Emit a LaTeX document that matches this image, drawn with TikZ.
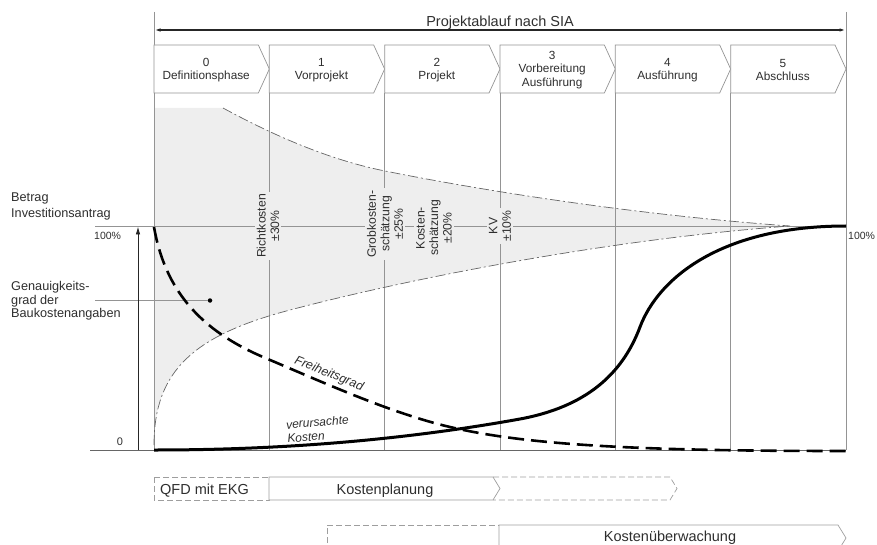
\documentclass[tikz,border=0pt]{standalone}
\usepackage{fontspec}
\setmainfont{Liberation Sans}
\usetikzlibrary{arrows.meta}
\definecolor{funnelgray}{gray}{0.935}
\definecolor{lineg}{gray}{0.58}
\definecolor{boxg}{gray}{0.62}
\definecolor{txt}{gray}{0.18}
\definecolor{funline}{gray}{0.4}
\begin{document}
\begin{tikzpicture}[x=1pt,y=-1pt,
  phaseline/.style={draw=lineg,line width=0.7pt},
  chev/.style={draw=lineg,line width=0.7pt,fill=white},
  chevtext/.style={font=\fontsize{11.8}{13.5}\selectfont,text=txt,align=center,inner sep=0pt},
  rotlab/.style={font=\fontsize{12.2}{13.5}\selectfont,text=txt,align=center,rotate=90,fill=funnelgray,inner sep=2pt},
  sidelab/.style={font=\fontsize{12.7}{15.5}\selectfont,text=txt,align=left,anchor=west,inner sep=0pt},
  axislab/.style={font=\fontsize{10.5}{12}\selectfont,text=txt,inner sep=0pt},
  barlab/.style={font=\fontsize{14.5}{16}\selectfont,text=txt,inner sep=0pt},
  curvelab/.style={font=\itshape\fontsize{12.5}{14}\selectfont,text=txt,inner sep=0pt},
  funnelline/.style={draw=funline,line width=0.7pt,dash pattern=on 10pt off 3pt on 2pt off 3pt},
  freiheit/.style={draw=black,line width=2.6pt,dash pattern=on 16pt off 7pt},
  kosten/.style={draw=black,line width=3pt},
  solidbar/.style={draw=boxg,line width=0.7pt},
  dashbar/.style={draw=boxg,line width=0.7pt,dash pattern=on 6pt off 3pt},
]
\useasboundingbox (0,0) rectangle (877,545);

% funnel fill
\fill[funnelgray] (154,108) -- (223,108)
  .. controls (260,128) and (320,158) .. (385,171)
  .. controls (500,194) and (650,216) .. (790,226)
  .. controls (600,240) and (400,281) .. (290,310)
  .. controls (195,335) and (154,370) .. (154,445)
  -- cycle;

% axes and reference lines
\coordinate (hl) at (95,226);
\coordinate (hr) at (846,226);
\draw[draw=lineg,line width=0.8pt] (hl) -- (hr);
\coordinate (bl) at (90,450);
\coordinate (br) at (846,450);
\draw[draw=gray!80!black,line width=0.9pt] (bl) -- (br);

% phase lines
\coordinate (vl0) at (154,12);
\coordinate (vl1) at (154,450);
\coordinate (vr0) at (846,12);
\coordinate (vr1) at (846,450);
\draw[phaseline] (vl0) -- (vl1);
\draw[phaseline] (vr0) -- (vr1);
\foreach \i in {1,...,5} {
  \coordinate (pt\i) at (154+115.333*\i,93);
  \coordinate (pb\i) at (154+115.333*\i,450);
  \draw[phaseline] (pt\i) -- (pb\i);
}

% top arrow and title
\coordinate (tal) at (154.5,30);
\coordinate (tar) at (845.5,30);
\draw[{Latex[length=6pt,width=3.5pt]}-{Latex[length=6pt,width=3.5pt]},line width=1.4pt,draw=black!85] (tal) -- (tar);
\node[barlab,anchor=base] (title) at (500,26.5) {Projektablauf nach SIA};

% phase chevrons
\foreach \i/\lab in {0/{0\\Definitionsphase},1/{1\\Vorprojekt},2/{2\\Projekt},3/{3\\Vorbereitung\\Ausführung},4/{4\\Ausführung},5/{5\\Abschluss}} {
  \pgfmathsetmacro\xa{154+115.333*\i}
  \pgfmathsetmacro\xb{\xa+115.333}
  \draw[chev] (\xa,45) -- (\xb-11,45) -- (\xb,69) -- (\xb-11,93) -- (\xa,93) -- cycle;
  \node[chevtext] (ph\i) at ({(\xa+\xb-11)/2},70) {\lab};
}

% left labels
\node[sidelab] (betrag) at (11,206.3) {Betrag\\Investitionsantrag};
\node[sidelab,font=\fontsize{12.7}{13.3}\selectfont] (genau) at (11,301) {Genauigkeits-\\grad der\\Baukostenangaben};
\node[axislab,anchor=base west] (p100l) at (94,240) {100\%};
\node[axislab,anchor=base west] (p100r) at (848,240) {100\%};
\node[axislab,font=\fontsize{11}{12}\selectfont,anchor=base] (zero) at (120,445) {0};

% leader to dot
\node[circle,fill=black,inner sep=0pt,minimum size=4.5pt] (dot) at (210,300.5) {};
\coordinate (lead) at (95,300.5);
\draw[draw=lineg,line width=0.6pt] (lead) -- (dot);

% vertical arrow
\coordinate (va0) at (138,450);
\coordinate (va1) at (138,226.5);
\draw[-{Latex[length=8pt,width=4.5pt]},line width=0.8pt,draw=black!85] (va0) -- (va1);

% rotated accuracy labels
\node[rotlab] (rk) at (268,226) {Richtkosten\\±30\%};
\node[rotlab] (gk) at (385,224) {Grobkosten-\\schätzung\\±25\%};
\node[rotlab] (ks) at (434,228) {Kosten-\\schätzung\\±20\%};
\node[rotlab] (kv) at (500,226) {KV\\±10\%};

% funnel borders
\draw[funnelline] (223,108) .. controls (260,128) and (320,158) .. (385,171)
  .. controls (500,194) and (650,216) .. (790,226);
\draw[funnelline] (154,445) .. controls (154,370) and (195,335) .. (290,310)
  .. controls (400,281) and (600,240) .. (790,226);

% Freiheitsgrad curve
\draw[freiheit] (154,227) .. controls (165,290) and (200,330) .. (263,357)
  .. controls (320,381) and (390,413) .. (450,427)
  .. controls (530,446) and (650,451) .. (846,451);

% verursachte Kosten curve
\draw[kosten] (154,450) .. controls (300,450) and (420,437) .. (520,419)
  .. controls (585,407) and (622,375) .. (640,327)
  .. controls (658,279) and (720,226) .. (846,226);

% curve labels
\node[curvelab,rotate=-22] (frei) at (329,374) {Freiheitsgrad};
\node[curvelab,align=left,rotate=5,font=\itshape\fontsize{12}{14}\selectfont] (verk) at (318,429) {verursachte\\Kosten};

% bottom row 1
\draw[dashbar] (154,477) rectangle (269,500);
\draw[dashbar] (493,477) -- (670,477) -- (677,488.5) -- (670,500) -- (493,500);
\draw[solidbar,fill=white] (269,477) -- (493,477) -- (500,488.5) -- (493,500) -- (269,500) -- cycle;
\node[barlab,anchor=base west] (qfd) at (160,494.5) {QFD mit EKG};
\node[barlab,anchor=base] (kp) at (385,494.5) {Kostenplanung};

% bottom row 2
\draw[dashbar] (327,552) -- (327,525) -- (499,525);
\draw[solidbar] (499,552) -- (499,525) -- (838,525) -- (846,538) -- (838,551);
\node[barlab,anchor=base] (ku) at (670,541.5) {Kostenüberwachung};
\end{tikzpicture}
\end{document}
